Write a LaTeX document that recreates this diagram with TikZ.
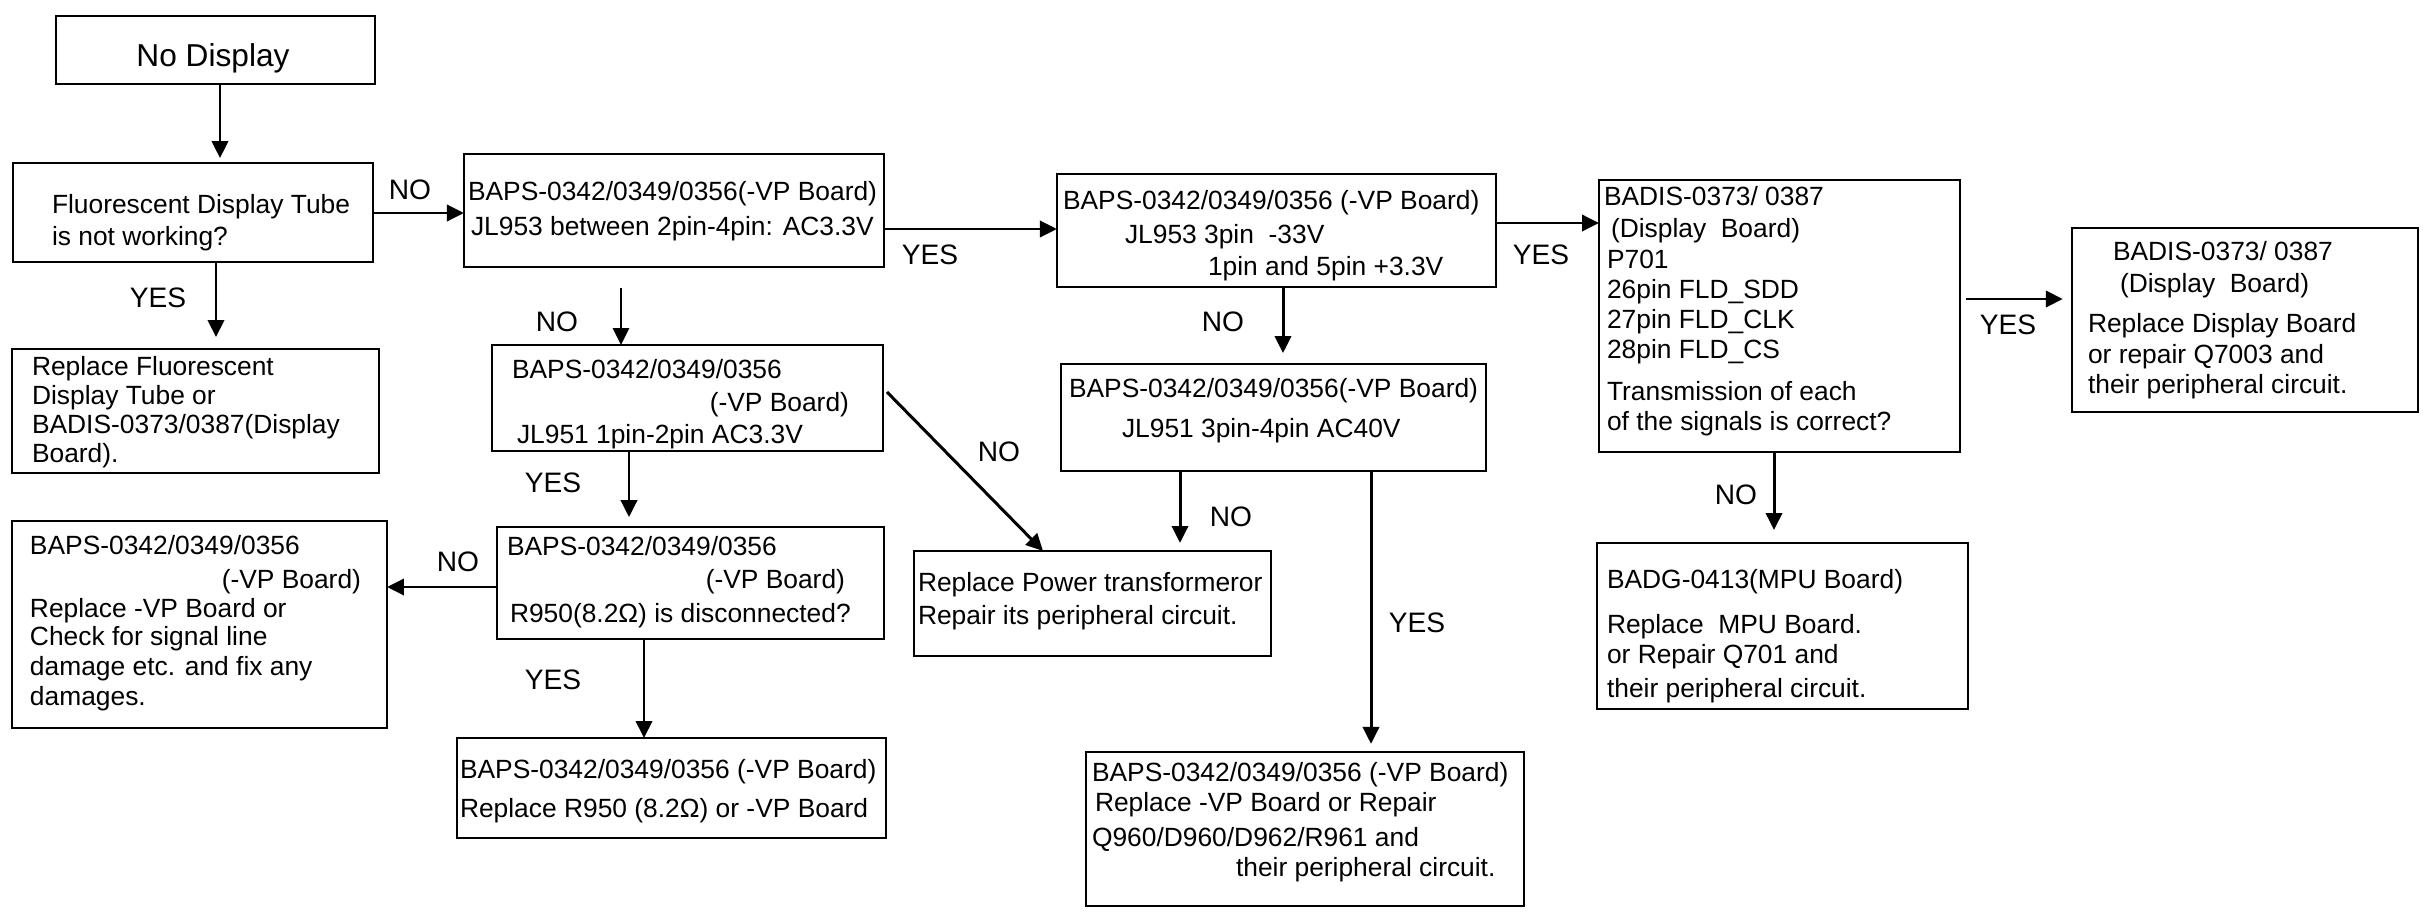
\documentclass[tikz,border=0pt]{standalone}
\usepackage{fontspec}
\setmainfont{Liberation Sans}
\usetikzlibrary{arrows.meta}
\newcommand\fs{\fontsize{7.5}{9}\selectfont}
\newcommand\fl{\fontsize{8}{9.6}\selectfont}
\newcommand\fb{\fontsize{9}{11}\selectfont}
\newcommand\mybox[5]{\node[box,minimum width={(#4-#2)*0.28453pt},minimum height={(#5-#3)*0.28453pt}] (#1) at ({(#2+#4)/2},{(#3+#5)/2}) {};}
\newcommand\txl[4]{\node[tx,anchor=base west] (#1) at (#2,#3) {#4};}
\newcommand\txr[4]{\node[tx,anchor=base east] (#1) at (#2,#3) {#4};}
\tikzset{
  box/.style={draw, line width=0.6pt, inner sep=0pt, outer sep=0pt},
  arr/.style={line width=0.85pt, -{Triangle[length=4.8pt,width=4.6pt]}},
  tx/.style={inner sep=0pt, outer sep=0pt, font=\fs},
  lbl/.style={inner sep=0pt, outer sep=0pt, font=\fl},
}
\begin{document}
\begin{tikzpicture}[x=0.01cm,y=-0.01cm]
\useasboundingbox (0,0) rectangle (2423,912);
% boxes
\mybox{B1}{56}{16}{375}{84}
\mybox{B2}{13}{163}{373}{262}
\mybox{B3}{464}{154}{884}{267}
\mybox{B4}{492}{345}{883}{451}
\mybox{B5}{497}{527}{884}{639}
\mybox{B6}{457}{738}{886}{838}
\mybox{B7}{12}{349}{379}{473}
\mybox{B8}{12}{521}{387}{728}
\mybox{B9}{1057}{174}{1496}{287}
\mybox{B10}{1061}{364}{1486}{471}
\mybox{B11}{914}{551}{1271}{656}
\mybox{B12}{1086}{752}{1524}{906}
\mybox{B13}{1599}{180}{1960}{452}
\mybox{B14}{2072}{228}{2418}{412}
\mybox{B15}{1597}{543}{1968}{709}
% texts
\node[inner sep=0pt, font=\fb, anchor=base] (t1) at (213,66) {No Display};
\txl{t2a}{52}{213}{Fluorescent Display Tube}
\txl{t2b}{52}{245}{is not working?}
\txl{t7a}{32}{375}{Replace Fluorescent}
\txl{t7b}{32}{404}{Display Tube or}
\txl{t7c}{32}{433}{BADIS-0373/0387(Display}
\txl{t7d}{32}{462}{Board).}
\txl{t8a}{30}{554}{BAPS-0342/0349/0356}
\txr{t8b}{361}{588}{(-VP Board)}
\txl{t8c}{30}{617}{Replace -VP Board or}
\txl{t8d}{30}{645}{Check for signal line}
\txl{t8e}{30}{675}{damage etc. and fix any}
\txl{t8f}{30}{705}{damages.}
\txl{t3a}{468}{200}{BAPS-0342/0349/0356(-VP Board)}
\txl{t3b}{471}{235}{JL953 between 2pin-4pin: AC3.3V}
\txl{t4a}{512}{378}{BAPS-0342/0349/0356}
\txr{t4b}{849}{411}{(-VP Board)}
\txl{t4c}{517}{443}{JL951 1pin-2pin AC3.3V}
\txl{t5a}{507}{555}{BAPS-0342/0349/0356}
\txr{t5b}{845}{588}{(-VP Board)}
\txl{t5c}{510}{622}{R950(8.2Ω) is disconnected?}
\txl{t6a}{460}{778}{BAPS-0342/0349/0356 (-VP Board)}
\txl{t6b}{460}{817}{Replace R950 (8.2Ω) or -VP Board}
\txl{t9a}{1063}{209}{BAPS-0342/0349/0356 (-VP Board)}
\txl{t9b}{1125}{243}{JL953 3pin\ \ -33V}
\txl{t9c}{1208}{275}{1pin and 5pin +3.3V}
\txl{t10a}{1069}{397}{BAPS-0342/0349/0356(-VP Board)}
\txl{t10b}{1122}{437}{JL951 3pin-4pin AC40V}
\txl{t11a}{918}{591}{Replace Power transformeror}
\txl{t11b}{918}{624}{Repair its peripheral circuit.}
\txl{t12a}{1092}{781}{BAPS-0342/0349/0356 (-VP Board)}
\txl{t12b}{1095}{811}{Replace -VP Board or Repair}
\txl{t12c}{1092}{846}{Q960/D960/D962/R961 and}
\txl{t12d}{1236}{876}{their peripheral circuit.}
\txl{t13a}{1604}{205}{BADIS-0373/ 0387}
\txl{t13b}{1611}{237}{(Display\ \ Board)}
\txl{t13c}{1607}{268}{P701}
\txl{t13d}{1607}{298}{26pin FLD\_SDD}
\txl{t13e}{1607}{328}{27pin FLD\_CLK}
\txl{t13f}{1607}{358}{28pin FLD\_CS}
\txl{t13g}{1607}{400}{Transmission of each}
\txl{t13h}{1607}{430}{of the signals is correct?}
\txl{t14a}{2113}{260}{BADIS-0373/ 0387}
\txl{t14b}{2120}{292}{(Display\ \ Board)}
\txl{t14c}{2088}{332}{Replace Display Board}
\txl{t14d}{2088}{363}{or repair Q7003 and}
\txl{t14e}{2088}{393}{their peripheral circuit.}
\txl{t15a}{1607}{588}{BADG-0413(MPU Board)}
\txl{t15b}{1607}{633}{Replace\ \ MPU Board.}
\txl{t15c}{1607}{663}{or Repair Q701 and}
\txl{t15d}{1607}{697}{their peripheral circuit.}
% labels
\node[lbl] (l1) at (410,190) {NO};
\node[lbl] (l2) at (158,298) {YES};
\node[lbl] (l3) at (557,322) {NO};
\node[lbl] (l4) at (930,255) {YES};
\node[lbl] (l5) at (553,483) {YES};
\node[lbl] (l6) at (458,562) {NO};
\node[lbl] (l7) at (553,680) {YES};
\node[lbl] (l8) at (999,452) {NO};
\node[lbl] (l9) at (1223,322) {NO};
\node[lbl] (l10) at (1231,517) {NO};
\node[lbl] (l11) at (1417,623) {YES};
\node[lbl] (l12) at (1541,255) {YES};
\node[lbl] (l13) at (2008,325) {YES};
\node[lbl] (l14) at (1736,495) {NO};
% connectors
\draw[arr, shorten >=1.4pt] (B1.south -| 220,0) -- (B2.north -| 220,0);
\draw[arr] (B2.east |- 0,213) -- (B3.west |- 0,213);
\draw[arr, shorten >=3.4pt] (B2.south -| 216,0) -- (B7.north -| 216,0);
\draw[arr] (B3.east |- 0,229) -- (B9.west |- 0,229);
\draw[arr, line width=0.65pt, shorten <=6pt] (B3.south -| 621,0) -- (B4.north -| 621,0);
\draw[arr, shorten >=2.8pt] (B4.south -| 629,0) -- (B5.north -| 629,0);
\draw[arr] (B5.west |- 0,587) -- (B8.east |- 0,587);
\draw[arr] (B5.south -| 644,0) -- (B6.north -| 644,0);
\draw[arr] ([xshift=1.1pt]B4.east |- 0,392) -- (B11.north -| 1043,0);
\draw[arr, shorten >=3.1pt] (B9.south -| 1283,0) -- (B10.north -| 1283,0);
\draw[arr, shorten >=2.3pt] (B10.south -| 1180,0) -- (B11.north -| 1180,0);
\draw[arr, shorten >=2.3pt] (B10.south -| 1371,0) -- (B12.north -| 1371,0);
\draw[arr] (B9.east |- 0,223) -- (B13.west |- 0,223);
\draw[arr, shorten <=1.7pt, shorten >=2.6pt] (B13.east |- 0,299) -- (B14.west |- 0,299);
\draw[arr, shorten >=3.7pt] (B13.south -| 1774,0) -- (B15.north -| 1774,0);
\end{tikzpicture}
\end{document}
